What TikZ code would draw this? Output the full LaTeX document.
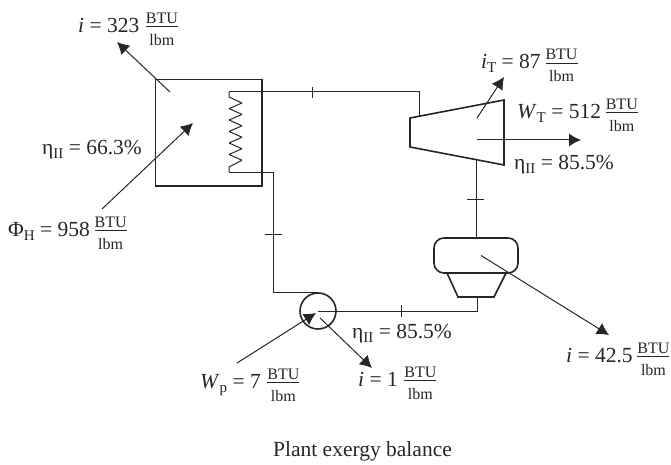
\documentclass[tikz,border=0pt]{standalone}
\usepackage{amsmath}
\usepackage{fontspec}
\setmainfont{Liberation Serif}
\usetikzlibrary{arrows.meta}
\newcommand{\sbs}[1]{\raisebox{-4pt}{\fontsize{15}{15}\selectfont #1}}
\newcommand{\bfr}{$\genfrac{}{}{0.9pt}{}{\mbox{\fontsize{16}{16}\selectfont BTU\rule[-2.5pt]{0pt}{1pt}}}{\mbox{\fontsize{16}{16}\selectfont lbm\rule{0pt}{17pt}}}$}
\tikzset{
  thickline/.style={line width=1.6pt,draw=black!85},
  pipe/.style={line width=1pt,draw=black!85},
  flow/.style={line width=1pt,draw=black!85,-{Latex[length=12pt,width=13pt]}},
  lab/.style={anchor=west,inner sep=0pt,font=\fontsize{21.5}{22}\selectfont,text=black!85},
  caplab/.style={inner sep=0pt,font=\fontsize{21.5}{22}\selectfont,text=black!85}
}
\begin{document}
\begin{tikzpicture}[x=1pt,y=-1pt]
\useasboundingbox (0,0) rectangle (671,465);
% components
\node[thickline,draw,minimum width=106.5pt,minimum height=106.5pt,inner sep=0pt] (boiler) at (208.7,132.7) {};
\node[thickline,draw,circle,minimum size=36pt,inner sep=0pt] (pump) at (318,311) {};
\node[thickline,draw,rounded corners=10pt,minimum width=84pt,minimum height=35pt,inner sep=0pt] (cond) at (476,255.5) {};
\coordinate (ct1) at (447,273); \coordinate (ct2) at (506,273);
\coordinate (ct3) at (494,297); \coordinate (ct4) at (458,297);
\draw[thickline] (ct1) -- (ct4) -- (ct3) -- (ct2);
\coordinate (t1) at (410,118); \coordinate (t2) at (504,100);
\coordinate (t3) at (504,165); \coordinate (t4) at (410,147);
\draw[thickline] (t1) -- (t2) -- (t3) -- (t4) -- cycle;
% coil and pipes
\coordinate (c1) at (229,92); \coordinate (c2) at (229,172);
\coordinate (tin) at (419,116.5); \coordinate (tout) at (476,160.5);
\coordinate (cin) at (476,238); \coordinate (cout) at (477,297);
\coordinate (pin) at (318,292.7); \coordinate (pc) at (318,311.5);
\draw[pipe,line join=bevel] (c1) -- (229,97)
  -- (242,103) -- (229,108.6) -- (242,114.4) -- (229,120) -- (242,125.8)
  -- (229,131.5) -- (242,137.2) -- (229,143) -- (242,148.7) -- (229,154.5)
  -- (242,160.2) -- (229,167) -- (c2);
\draw[pipe] (c1) -- (419,92) -- (tin);
\draw[pipe] (c2) -- (273,172) -- (273,292.7) -- (pin);
\draw[pipe] (tout) -- (cin);
\draw[pipe] (cout) -- (477,311.5) -- (pc);
% ticks
\coordinate (k1a) at (312,87); \coordinate (k1b) at (312,98);
\coordinate (k2a) at (265,234.5); \coordinate (k2b) at (282,234.5);
\coordinate (k3a) at (467,199); \coordinate (k3b) at (484,199);
\coordinate (k4a) at (401,305); \coordinate (k4b) at (401,317);
\draw[pipe] (k1a) -- (k1b); \draw[pipe] (k2a) -- (k2b);
\draw[pipe] (k3a) -- (k3b); \draw[pipe] (k4a) -- (k4b);
% flows
\coordinate (a1s) at (170,92); \coordinate (a1e) at (117,42);
\coordinate (a2s) at (102,209); \coordinate (a2e) at (193,123);
\coordinate (a3s) at (477,118); \coordinate (a3e) at (504,77);
\coordinate (a4s) at (477,140); \coordinate (a4e) at (581,140);
\coordinate (a5s) at (481,255.5); \coordinate (a5e) at (609,335);
\coordinate (a6s) at (237,363); \coordinate (a6e) at (316,313);
\coordinate (a7s) at (320,318); \coordinate (a7e) at (372,368);
\draw[flow] (a1s) -- (a1e);
\draw[flow] (a2s) -- (a2e);
\draw[flow] (a3s) -- (a3e);
\draw[flow] (a4s) -- (a4e);
\draw[flow] (a5s) -- (a5e);
\draw[flow] (a6s) -- (a6e);
\draw[flow] (a7s) -- (a7e);
% labels
\node[lab] (l1) at (78,29) {\textit{i} = 323 \bfr};
\node[lab] (l2) at (42,149.5) {η\sbs{II} = 66.3\%};
\node[lab] (l3) at (8,233) {Φ\sbs{H} = 958\,\bfr};
\node[lab] (l4) at (481,65.5) {\textit{i}\sbs{T} = 87\,\bfr};
\node[lab] (l5) at (517,115) {\textit{W}\sbs{T} = 512\,\bfr};
\node[lab] (l6) at (514,164.5) {η\sbs{II} = 85.5\%};
\node[lab] (l7) at (352,333.5) {η\sbs{II} = 85.5\%};
\node[lab] (l8) at (200,385) {\textit{W}\sbs{p} = 7 \bfr};
\node[lab] (l9) at (358,383) {\textit{i} = 1 \bfr};
\node[lab] (l10) at (566,359) {\textit{i} = 42.5\,\bfr};
\node[caplab] (cap) at (362.5,451) {Plant exergy balance};
\end{tikzpicture}
\end{document}
